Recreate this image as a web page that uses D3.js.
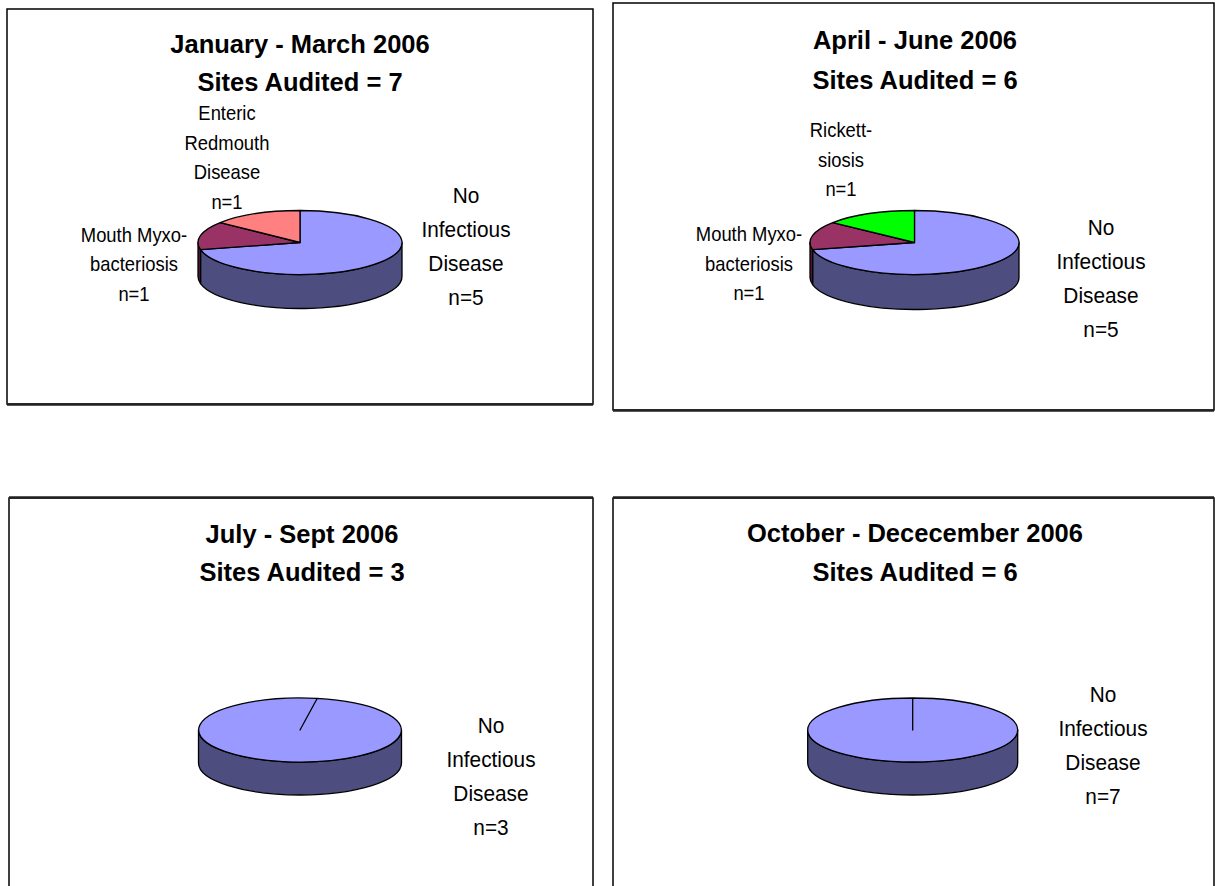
<!DOCTYPE html>
<html>
<head>
<meta charset="utf-8">
<script src="https://cdn.jsdelivr.net/npm/d3@7/dist/d3.min.js"></script>
<style>
  html, body { margin: 0; padding: 0; background: #ffffff; }
  svg { display: block; }
  text { font-family: "Liberation Sans", Arial, Helvetica, sans-serif; fill: #000; }
</style>
</head>
<body>
<svg id="chart" width="1215" height="886"></svg>
<script>
// Quarterly audit results, 2006
const periods = ["January - March 2006", "April - June 2006", "July - Sept 2006", "October - Dececember 2006"];
const sitesAudited = [7, 6, 3, 6];

// Site counts per disease category, one entry per quarter
const noInfectiousDisease = [5, 5, 3, 7];
const mouthMyxobacteriosis = [1, 1, 0, 0];
const entericRedmouthDisease = [1, 0, 0, 0];
const rickettsiosis = [0, 1, 0, 0];

// Category label lines (the count line is appended from the data)
const categoryNames = ["No Infectious Disease", "Mouth Myxobacteriosis", "Enteric Redmouth Disease", "Rickettsiosis"];
const categoryLabelLines = [
  ["No", "Infectious", "Disease"],
  ["Mouth Myxo-", "bacteriosis"],
  ["Enteric", "Redmouth", "Disease"],
  ["Rickett-", "siosis"]
];
const categorySeries = [noInfectiousDisease, mouthMyxobacteriosis, entericRedmouthDisease, rickettsiosis];

// Face and wall colours for each category
const topColour = d3.scaleOrdinal().domain(categoryNames).range(["#9999FF", "#993366", "#FF8080", "#00FF00"]);
const sideColour = d3.scaleOrdinal().domain(categoryNames).range(["#4D4D80", "#4D1A33", "#804040", "#008000"]);

// Panel layout: frame, heavier edge, title, pie geometry and label anchors
const panelLayout = [
  { box: [7, 9, 593, 404], heavy: "bottom", titleX: 300, titleY: [53, 91],
    pie: { cx: 300, cy: 242.5, rx: 102, ry: 32, depth: 34, start: 0 },
    labels: { "No Infectious Disease": [466, 202.7, "big"], "Mouth Myxobacteriosis": [134, 241.7, "small"], "Enteric Redmouth Disease": [227, 120, "small"] } },
  { box: [613, 3, 1214, 410], heavy: "bottom", titleX: 915, titleY: [49, 89],
    pie: { cx: 914.5, cy: 242.5, rx: 104.5, ry: 32, depth: 35, start: 0 },
    labels: { "No Infectious Disease": [1101, 235, "big"], "Mouth Myxobacteriosis": [749, 241, "small"], "Rickettsiosis": [841, 137, "small"] } },
  { box: [9, 498, 593, 900], heavy: "top", titleX: 302, titleY: [542.7, 580.7],
    pie: { cx: 300, cy: 730, rx: 101.5, ry: 32, depth: 33, start: 0.17 },
    labels: { "No Infectious Disease": [491, 733, "big"] } },
  { box: [613, 498, 1214, 900], heavy: "top", titleX: 915, titleY: [541.7, 580.7],
    pie: { cx: 912.7, cy: 730, rx: 105, ry: 32, depth: 33, start: 0 },
    labels: { "No Infectious Disease": [1103, 701.7, "big"] } }
];

const labelStyle = {
  big: { size: 22.4, lead: 34 },
  small: { size: 19.8, lead: 29.7 }
};
const labelSqueeze = 0.93;

const svg = d3.select("#chart");

function pt(p, a, dy) {
  return [p.cx + p.rx * Math.sin(a), p.cy - p.ry * Math.cos(a) + (dy || 0)];
}

// Top face of one slice as an elliptical wedge
function topPath(p, a0, a1) {
  const path = d3.path();
  const s = pt(p, a0);
  const span = a1 - a0;
  path.moveTo(p.cx, p.cy);
  path.lineTo(s[0], s[1]);
  let str = path.toString();
  if (span >= 2 * Math.PI - 1e-6) {
    const m = pt(p, a0 + Math.PI), e = pt(p, a1);
    str += `A${p.rx},${p.ry} 0 0 1 ${m[0]},${m[1]}A${p.rx},${p.ry} 0 0 1 ${e[0]},${e[1]}`;
  } else {
    const e = pt(p, a1);
    str += `A${p.rx},${p.ry} 0 ${span > Math.PI ? 1 : 0} 1 ${e[0]},${e[1]}`;
  }
  return str + "Z";
}

// Outer wall of the part of a slice that faces the viewer
function sidePaths(p, a0, a1) {
  const out = [];
  for (let k = -1; k <= 1; k++) {
    const lo = Math.PI / 2 + 2 * Math.PI * k, hi = 3 * Math.PI / 2 + 2 * Math.PI * k;
    const s = Math.max(a0, lo), e = Math.min(a1, hi);
    if (e - s > 1e-6) {
      const t0 = pt(p, s), t1 = pt(p, e), b1 = pt(p, e, p.depth), b0 = pt(p, s, p.depth);
      out.push(`M${t0[0]},${t0[1]}A${p.rx},${p.ry} 0 0 1 ${t1[0]},${t1[1]}` +
        `L${b1[0]},${b1[1]}A${p.rx},${p.ry} 0 0 0 ${b0[0]},${b0[1]}Z`);
    }
  }
  return out;
}

periods.forEach((period, i) => {
  const L = panelLayout[i];
  const g = svg.append("g").attr("class", "panel");

  // frame
  const [x0, y0, x1, y1] = L.box;
  g.append("rect")
    .attr("x", x0).attr("y", y0)
    .attr("width", x1 - x0).attr("height", y1 - y0)
    .attr("fill", "#fff").attr("stroke", "#000").attr("stroke-width", 1.5);
  const hy = L.heavy === "bottom" ? y1 + 0.5 : y0 - 0.5;
  g.append("line")
    .attr("x1", x0).attr("x2", x1).attr("y1", hy).attr("y2", hy)
    .attr("stroke", "#222").attr("stroke-width", 2.5);

  // title
  const title = g.append("text")
    .attr("text-anchor", "middle")
    .attr("font-weight", "bold")
    .attr("font-size", 25.5);
  title.append("tspan").attr("x", L.titleX).attr("y", L.titleY[0]).text(period);
  title.append("tspan").attr("x", L.titleX).attr("y", L.titleY[1]).text(`Sites Audited = ${sitesAudited[i]}`);

  // slices
  const rows = categoryNames.map((name, c) => ({ name, value: categorySeries[c][i], lines: categoryLabelLines[c] }))
    .filter(d => d.value > 0);
  const p = L.pie;
  const arcs = d3.pie().sort(null).value(d => d.value)
    .startAngle(p.start).endAngle(p.start + 2 * Math.PI)(rows);

  const pieG = g.append("g").attr("class", "pie");
  arcs.forEach(a => {
    sidePaths(p, a.startAngle, a.endAngle).forEach(d => {
      pieG.append("path").attr("d", d)
        .attr("fill", sideColour(a.data.name))
        .attr("stroke", "#000").attr("stroke-width", 1.3).attr("stroke-linejoin", "round");
    });
  });
  arcs.forEach(a => {
    pieG.append("path").attr("d", topPath(p, a.startAngle, a.endAngle))
      .attr("fill", topColour(a.data.name))
      .attr("stroke", "#000").attr("stroke-width", 1.3).attr("stroke-linejoin", "round");
  });

  // category labels
  rows.forEach(r => {
    const spec = L.labels[r.name];
    if (!spec) return;
    const st = labelStyle[spec[2]];
    const t = g.append("text").attr("text-anchor", "middle").attr("font-size", st.size)
      .attr("transform", `translate(${spec[0]},0) scale(${labelSqueeze},1) translate(${-spec[0]},0)`);
    r.lines.concat([`n=${r.value}`]).forEach((line, j) => {
      t.append("tspan").attr("x", spec[0]).attr("y", spec[1] + j * st.lead).text(line);
    });
  });
});
</script>
</body>
</html>
